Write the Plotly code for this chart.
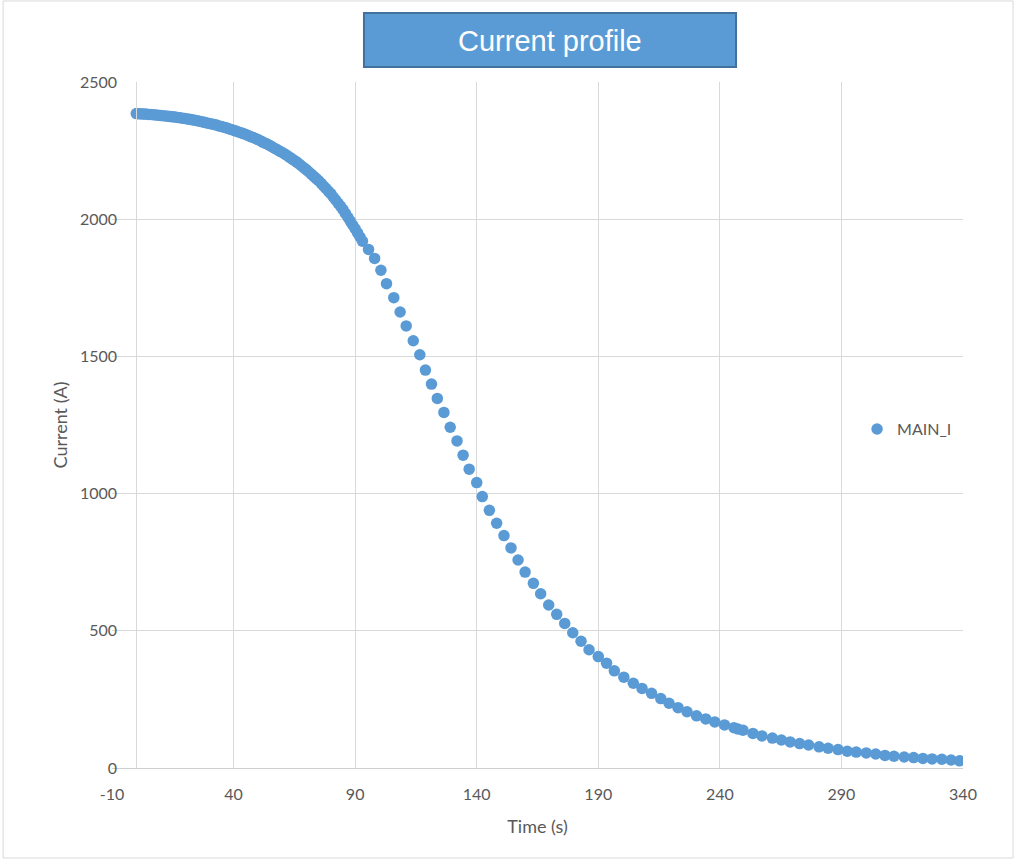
import plotly.graph_objects as go

# Sample times (s) and measured main current (A)
time_s = [
    0, 1, 2, 3, 4, 5, 6, 7, 8, 9, 10, 11, 12, 13, 14, 15, 16, 17, 18, 19,
    20, 21, 22, 23, 24, 25, 26, 27, 28, 29, 30, 31, 32, 33, 34, 35, 36, 37, 38, 39,
    40, 41, 42, 43, 44, 45, 46, 47, 48, 49, 50, 51, 52, 53, 54, 55, 56, 57, 58, 59,
    60, 61, 62, 63, 64, 65, 66, 67, 68, 69, 70, 71, 72, 73, 74, 75, 76, 77, 78, 79,
    80, 81, 82, 83, 84, 85, 86, 87, 88, 89, 90, 91, 92, 93,
    95.5, 98.0, 100.6, 102.9, 105.9, 108.5, 111.0, 113.9, 116.6, 118.9,
    121.4, 123.8, 126.5, 129.1, 131.9, 134.4, 136.9, 140.0, 142.3, 145.2,
    148.2, 151.2, 154.1, 157.0, 159.9, 163.3, 166.3, 169.6, 172.9, 176.2,
    179.5, 182.9, 186.2, 190.0, 193.4, 196.6, 200.5, 204.4, 208.0, 211.9,
    215.7, 219.1, 222.8, 226.5, 230.4, 234.2, 237.9, 241.9, 245.8, 247.4,
    249.5, 253.6, 257.3, 261.6, 265.3, 268.9, 272.8, 276.5, 280.8, 284.5,
    288.6, 292.4, 296.1, 300.2, 304.1, 307.9, 311.6, 315.8, 319.7, 323.5,
    327.3, 331.3, 335.1, 338.6,
]
current_a = [
    2385, 2384, 2384, 2383, 2383, 2382, 2382, 2381, 2380, 2379,
    2378, 2377, 2376, 2375, 2374, 2373, 2372, 2371, 2370, 2368,
    2367, 2365, 2364, 2362, 2361, 2359, 2357, 2355, 2353, 2351,
    2349, 2347, 2345, 2343, 2340, 2338, 2335, 2333, 2330, 2327,
    2324, 2321, 2318, 2315, 2312, 2309, 2305, 2301, 2298, 2294,
    2290, 2286, 2281, 2277, 2273, 2268, 2263, 2258, 2253, 2248,
    2243, 2238, 2232, 2226, 2220, 2214, 2208, 2201, 2194, 2187,
    2180, 2172, 2164, 2156, 2148, 2140, 2131, 2121, 2112, 2102,
    2093, 2081, 2070, 2058, 2047, 2035, 2021, 2007, 1993, 1979,
    1965, 1950, 1935, 1920,
    1890, 1857, 1814, 1765, 1714, 1662, 1611, 1557, 1506, 1450,
    1399, 1347, 1296, 1242, 1192, 1140, 1089, 1040, 989, 939,
    892, 847, 802, 758, 714, 673, 635, 594, 560, 527,
    493, 462, 431, 406, 382, 354, 331, 309, 290, 272,
    253, 236, 220, 205, 190, 179, 168, 157, 147, 142,
    138, 126, 117, 109, 102, 95, 89, 84, 77, 72,
    67, 61, 58, 55, 51, 46, 43, 40, 38, 35,
    33, 32, 29, 26,
]

x_ticks = [-10, 40, 90, 140, 190, 240, 290, 340]
y_ticks = [0, 500, 1000, 1500, 2000, 2500]

series_name = "MAIN_I"
chart_title = "Current profile"

BLUE = "#5B9BD5"
GRID = "#D9D9D9"
TEXT = "#595959"
FONT = "Lato"

fig = go.Figure()
fig.add_trace(go.Scatter(
    x=time_s, y=current_a, mode="markers", name=series_name,
    marker=dict(color=BLUE, size=11.5, line=dict(width=0)),
))

fig.update_layout(
    width=1017, height=861,
    margin=dict(l=112, r=54, t=82, b=93),
    paper_bgcolor="white", plot_bgcolor="white",
    font=dict(family=FONT, color=TEXT, size=15),
    showlegend=True,
    legend=dict(x=0.8755, y=0.494, xanchor="left", yanchor="middle",
                font=dict(size=16, color=TEXT), bgcolor="rgba(0,0,0,0)"),
    xaxis=dict(
        range=[-10, 340], tickvals=x_ticks, ticktext=[str(v) for v in x_ticks],
        showgrid=True, gridcolor=GRID, gridwidth=1, zeroline=False,
        showline=True, linecolor="#CFCFCF", linewidth=1, mirror=False,
        ticks="", ticklabelstandoff=12, tickfont=dict(size=16, color=TEXT),
        title=dict(text="Time (s)", font=dict(size=18, color=TEXT), standoff=18),
    ),
    yaxis=dict(
        range=[0, 2500], tickvals=y_ticks, ticktext=[str(v) for v in y_ticks],
        showgrid=True, gridcolor=GRID, gridwidth=1, zeroline=False,
        anchor="free", position=10 / 350,
        showline=True, linecolor=GRID, linewidth=1,
        ticks="", ticklabelstandoff=16, tickfont=dict(size=16, color=TEXT),
        title=dict(text="Current (A)", font=dict(size=18, color=TEXT), standoff=6),
    ),
)

# Outer chart border
fig.add_shape(type="rect", xref="paper", yref="paper",
              x0=-0.1280, x1=1.0588, y0=-0.1312, y1=1.1181,
              line=dict(color=GRID, width=1), fillcolor="rgba(0,0,0,0)", layer="below")

# Title banner
fig.add_shape(type="rect", xref="paper", yref="paper",
              x0=0.2961, x1=0.7333, y0=1.0219, y1=1.1006,
              line=dict(color="#41719C", width=2), fillcolor=BLUE, layer="above")
fig.add_annotation(text=chart_title, xref="paper", yref="paper",
                   x=0.5147, y=1.0598, showarrow=False,
                   xanchor="center", yanchor="middle",
                   font=dict(family="Liberation Sans", size=29, color="white"))

fig.write_html("out.html")
